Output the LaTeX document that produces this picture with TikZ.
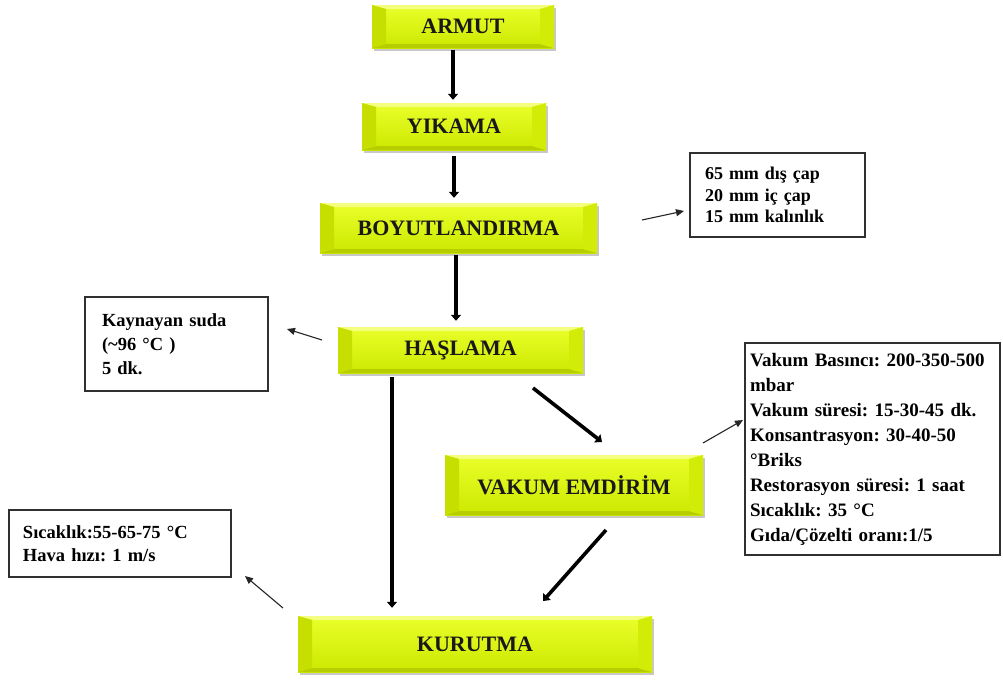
\documentclass[tikz,border=0pt]{standalone}
\usepackage{fontspec}
\setmainfont{Liberation Serif}
\usetikzlibrary{arrows.meta,calc,shadows}
\definecolor{facetop}{HTML}{EAFF2A}
\definecolor{facebot}{HTML}{CCE800}
\definecolor{bevtop}{HTML}{F4FF80}
\definecolor{bevbot}{HTML}{B6CE00}
\definecolor{bevleft}{HTML}{C6DE00}
\definecolor{bevright}{HTML}{D2EC08}
\definecolor{boxline}{HTML}{303030}
\frenchspacing
\begin{document}
\begin{tikzpicture}[x=1pt,y=-1pt,
  bevelbox/.style={top color=facetop, bottom color=facebot, inner sep=0pt,
    font=\bfseries\fontsize{22}{24}\selectfont, text=black!90,
    drop shadow={shadow xshift=1.5pt, shadow yshift=-2.5pt, opacity=0.3, fill=black!70},
    path picture={
      \fill[bevtop] (path picture bounding box.north west) -- (path picture bounding box.north east)
        -- ([xshift=-14pt,yshift=-4pt]path picture bounding box.north east)
        -- ([xshift=14pt,yshift=-4pt]path picture bounding box.north west) -- cycle;
      \fill[bevbot] (path picture bounding box.south west) -- (path picture bounding box.south east)
        -- ([xshift=-14pt,yshift=4pt]path picture bounding box.south east)
        -- ([xshift=14pt,yshift=4pt]path picture bounding box.south west) -- cycle;
      \fill[bevleft] (path picture bounding box.north west) -- (path picture bounding box.south west)
        -- ([xshift=14pt,yshift=4pt]path picture bounding box.south west)
        -- ([xshift=14pt,yshift=-4pt]path picture bounding box.north west) -- cycle;
      \fill[bevright] (path picture bounding box.north east) -- (path picture bounding box.south east)
        -- ([xshift=-14pt,yshift=4pt]path picture bounding box.south east)
        -- ([xshift=-14pt,yshift=-4pt]path picture bounding box.north east) -- cycle;
    }},
  infobox/.style={draw=boxline, line width=1.1pt, fill=white, align=left, inner sep=0pt},
  mainarrow/.style={line width=3.6pt, -{Triangle[length=6pt,width=10pt]}},
  sidearrow/.style={line width=1.1pt, draw=black!85, -{Triangle[length=8pt,width=7pt]}}
]
\useasboundingbox (0,0) rectangle (1003,680);
\fill[white] (0,0) rectangle (1003,680);

% process steps
\node[bevelbox, minimum width=182pt, minimum height=43pt] (armut) at (463,26.5) {ARMUT};
\node[bevelbox, minimum width=184pt, minimum height=47pt] (yikama) at (454,126.5) {YIKAMA};
\node[bevelbox, minimum width=277pt, minimum height=50pt] (boyut) at (458.5,228) {BOYUTLANDIRMA};
\node[bevelbox, minimum width=245pt, minimum height=46pt] (haslama) at (460.5,350) {HAŞLAMA};
\node[bevelbox, minimum width=258pt, minimum height=60pt] (vakum) at (574,485) {VAKUM EMDİRİM};
\node[bevelbox, minimum width=354pt, minimum height=56pt] (kurutma) at (475,644) {KURUTMA};

% info boxes
\node[infobox, minimum width=175pt, minimum height=84pt, text width=145pt,
      font=\bfseries\fontsize{18}{21.7}\selectfont] (info1) at (777.5,195)
  {65 mm dış çap\\20 mm iç çap\\15 mm kalınlık};
\node[infobox, minimum width=183pt, minimum height=94pt, text width=149pt,
      font=\bfseries\fontsize{18.5}{24}\selectfont] (info2) at (176.5,344)
  {Kaynayan suda\\(\textasciitilde96 °C )\\5 dk.};
\node[infobox, minimum width=255pt, minimum height=212pt, text width=245pt,
      font=\bfseries\fontsize{19}{25}\selectfont] (info3) at (872.5,449)
  {Vakum Basıncı: 200-350-500\\mbar\\Vakum süresi: 15-30-45 dk.\\Konsantrasyon: 30-40-50\\°Briks\\Restorasyon süresi: 1 saat\\Sıcaklık: 35 °C\\Gıda/Çözelti oranı:1/5};
\node[infobox, minimum width=222pt, minimum height=67pt, text width=194pt,
      font=\bfseries\fontsize{18.5}{23}\selectfont] (info4) at (120,543.5)
  {Sıcaklık:55-65-75 °C\\Hava hızı: 1 m/s};

% main flow
\draw[mainarrow, shorten <=2pt, shorten >=3pt] (armut.south -| 453,0) -- (yikama.north -| 453,0);
\draw[mainarrow, shorten <=6pt, shorten >=5pt] (yikama.south -| 454,0) -- (boyut.north -| 454,0);
\draw[mainarrow, shorten <=2pt, shorten >=6pt] (boyut.south -| 456,0) -- (haslama.north -| 456,0);
\draw[mainarrow, shorten <=4pt, shorten >=8pt] (haslama.south -| 392,0) -- (kurutma.north -| 392,0);
\coordinate (d1s) at (533,388);
\coordinate (d1e) at (602,442);
\coordinate (d2s) at (606,530);
\coordinate (d2e) at (543,601);
\draw[mainarrow] (d1s) -- (d1e);
\draw[mainarrow] (d2s) -- (d2e);

% side arrows
\coordinate (s1s) at (642,220);
\coordinate (s1e) at (684,211);
\coordinate (s2s) at (322,340);
\coordinate (s2e) at (287,329);
\coordinate (s3s) at (703,443);
\coordinate (s3e) at (743,420);
\coordinate (s4s) at (283,608);
\coordinate (s4e) at (245,576);
\draw[sidearrow] (s1s) -- (s1e);
\draw[sidearrow] (s2s) -- (s2e);
\draw[sidearrow] (s3s) -- (s3e);
\draw[sidearrow] (s4s) -- (s4e);
\end{tikzpicture}
\end{document}
